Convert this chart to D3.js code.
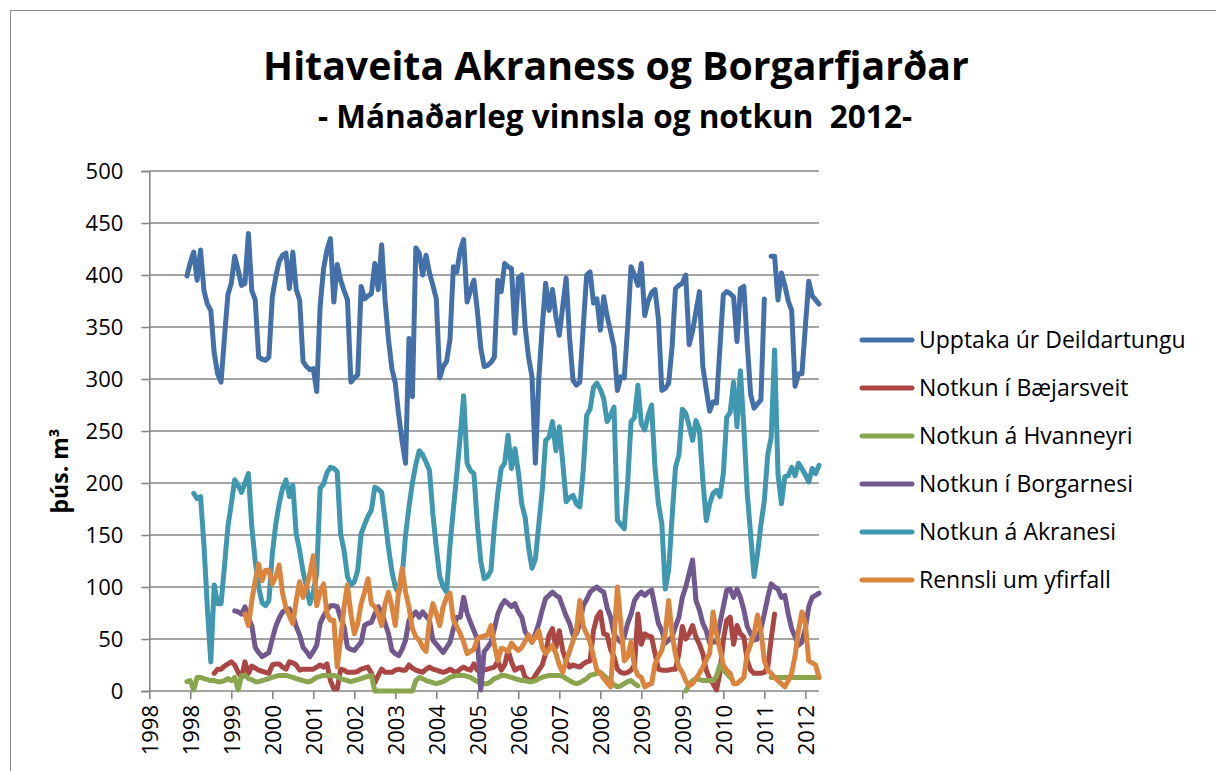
<!DOCTYPE html>
<html>
<head>
<meta charset="utf-8">
<script src="https://cdn.jsdelivr.net/npm/d3@7"></script>
<style>
  html, body { margin: 0; padding: 0; background: #fff; }
  svg { display: block; }
  text { font-family: "Open Sans", Lato, sans-serif; fill: #000; }
</style>
</head>
<body>
<svg id="chart" width="1216" height="771"></svg>
<script>
// ---------- DATA ----------
const titleText = "Hitaveita Akraness og Borgarfjarðar";
const subtitleText = "- Mánaðarleg vinnsla og notkun  2012-";
const yAxisTitle = "þús. m³";
const yTicks = [0, 50, 100, 150, 200, 250, 300, 350, 400, 450, 500];
const xTickIndex = [0, 12, 24, 36, 48, 60, 72, 84, 96, 108, 120, 132, 144, 156, 168, 180, 192];
const xTickLabels = ["1998","1998","1999","2000","2001","2002","2003","2004","2005","2006","2007","2008","2009","2009","2010","2011","2012"];
const seriesNames = ["Upptaka úr Deildartungu","Notkun í Bæjarsveit","Notkun á Hvanneyri","Notkun í Borgarnesi","Notkun á Akranesi","Rennsli um yfirfall"];
const seriesColors = ["#4470AA","#AA4643","#89A54E","#71588F","#3F97B0","#DB843D"];
const N = null;

// Upptaka úr Deildartungu (monthly, index 0..196)
const upptaka = [N,N,N,N,N,N,N,N,N,N,N,
399,412,422,395,424,385,372,366,325,305,297,340,381,392,418,405,390,392,440,
385,376,321,319,318,321,379,398,413,419,421,387,422,386,376,317,312,309,310,288,
370,406,424,435,374,410,395,385,376,297,301,304,389,377,380,382,411,386,429,376,
338,310,296,265,240,219,339,283,426,421,400,419,402,390,377,301,312,317,338,408,
403,424,434,374,385,395,366,330,312,313,316,321,395,384,411,408,406,344,397,400,
350,321,302,219,300,350,392,366,386,360,342,370,397,340,299,294,297,350,400,403,
373,377,347,379,360,346,331,289,302,301,350,408,400,390,411,361,375,383,386,358,
289,291,296,331,387,390,392,400,333,346,365,384,312,290,269,278,277,330,381,384,
382,379,336,387,389,334,285,272,276,280,377,N,418,418,376,402,390,375,366,293,
305,305,350,394,380,376,372];

// Notkun í Bæjarsveit
const baejarsveit = [N,N,N,N,N,N,N,N,N,N,N,N,N,N,N,N,N,N,N,
17,21,21,24,26,28,25,18,13,28,17,24,22,20,19,18,17,25,26,26,23,
21,28,27,25,20,21,21,21,21,23,25,23,26,10,2,2,21,20,18,18,
18,19,21,22,23,17,8,15,21,18,18,18,20,21,20,20,25,22,20,19,
18,21,23,21,20,19,18,19,21,19,18,21,23,21,20,26,20,20,20,21,
22,23,29,20,25,39,28,20,22,23,13,11,10,15,20,25,36,54,60,42,
58,39,29,23,25,24,23,26,28,29,58,71,76,55,54,40,33,21,18,17,
18,20,25,74,45,55,53,52,36,21,20,20,20,21,21,36,62,50,55,63,
52,45,36,20,12,7,1,17,49,68,71,45,63,55,52,29,20,17,17,17,
18,23,50,74,N,N,N,N,N,N,N,N,N,N,N,N,N];

// Notkun á Hvanneyri
const hvanneyri = [N,N,N,N,N,N,N,N,N,N,N,
9,10,1,13,13,12,11,10,10,9,9,10,12,10,13,1,15,15,12,
11,9,9,10,11,12,13,14,15,15,15,14,13,12,11,10,9,9,11,13,
14,15,15,15,15,14,12,11,10,9,10,11,12,13,14,15,0,0,0,0,
0,0,0,0,0,0,0,0,10,13,12,10,9,8,7,8,9,11,13,14,
15,15,15,14,13,11,9,8,7,7,9,12,13,15,15,14,13,12,11,10,
10,9,9,10,12,13,14,15,15,15,15,14,12,10,8,7,8,10,12,15,
16,17,18,15,12,9,6,4,5,7,9,10,7,5,N,N,N,N,N,N,
N,N,N,N,N,N,N,0,6,10,12,11,10,10,10,10,14,25,20,17,
13,N,N,N,N,N,N,N,N,N,N,N,13,13,13,13,13,13,13,13,
13,13,13,13,13,13,13];

// Notkun í Borgarnesi
const borgarnes = [N,N,N,N,N,N,N,N,N,N,N,N,N,N,N,N,N,N,N,N,N,N,N,N,N,
77,76,74,81,70,63,42,37,33,35,37,50,62,70,76,
78,79,73,62,54,42,38,33,38,44,65,72,78,82,82,81,70,62,42,40,
39,43,47,63,65,66,74,81,76,65,55,39,36,34,40,49,68,72,76,71,
76,72,68,49,45,41,37,42,47,60,71,71,90,75,66,58,50,1,38,42,
47,60,74,82,87,84,81,84,76,71,57,52,47,55,65,78,89,92,95,92,
90,81,72,65,54,55,65,82,88,95,98,100,97,95,80,71,55,50,47,52,
65,74,87,92,95,92,95,97,81,65,58,46,49,52,62,71,90,100,113,126,
87,78,65,58,46,47,47,65,81,97,98,90,98,90,78,62,55,49,50,60,
74,90,103,100,98,90,92,74,60,52,44,47,60,81,90,92,94];

// Notkun á Akranesi
const akranes = [N,N,N,N,N,N,N,N,N,N,N,N,N,
190,185,187,140,80,28,102,84,84,120,158,180,203,198,191,200,209,
158,125,100,85,82,87,132,160,180,195,203,187,198,151,135,115,100,84,95,113,
195,199,210,215,214,211,151,135,110,102,105,116,151,160,168,174,196,194,191,165,
138,115,100,94,110,150,177,200,218,231,227,220,212,170,138,110,100,95,140,175,
209,245,284,219,212,209,161,125,108,110,116,158,190,214,219,246,214,233,211,180,
167,138,118,127,160,193,241,244,259,231,254,220,182,186,188,180,177,212,265,271,
292,296,290,281,259,265,273,164,160,156,200,259,263,294,257,251,265,275,215,180,
161,98,116,167,215,227,271,267,255,241,260,251,203,164,180,190,193,187,209,263,
268,297,254,308,254,190,150,110,132,160,183,227,244,328,209,180,206,207,215,207,
219,214,208,201,214,209,217];

// Rennsli um yfirfall
const yfirfall = [N,N,N,N,N,N,N,N,N,N,N,N,N,N,N,N,N,N,N,N,N,N,N,N,N,N,N,N,
74,63,87,106,122,106,116,116,103,110,121,94,80,72,65,87,105,90,100,113,130,82,
95,103,74,68,68,23,50,81,102,74,55,65,84,95,108,84,81,74,63,84,
95,81,63,97,118,95,81,60,52,49,42,38,68,84,74,63,81,90,94,68,
62,55,47,36,38,40,50,52,53,54,63,44,29,41,40,38,46,42,39,42,
48,54,47,52,58,42,36,40,44,36,25,18,29,38,48,58,87,62,55,47,
33,20,17,12,8,4,49,100,65,29,33,47,23,15,13,4,6,7,26,33,
39,55,87,55,35,23,18,10,5,7,12,17,23,30,36,76,55,40,25,20,
17,7,7,10,13,36,45,55,73,58,29,20,17,13,10,7,4,10,17,34,
58,76,65,29,27,25,13];

const seriesData = [upptaka, baejarsveit, hvanneyri, borgarnes, akranes, yfirfall];

// ---------- LAYOUT ----------
const svg = d3.select("#chart");
const plotL = 149.3, plotR = 819, plotT = 171, plotB = 691;
const gridColor = "#878787";
const FONT = "'Open Sans', Lato, sans-serif";

svg.append("rect").attr("x", 10.5).attr("y", 10.5).attr("width", 1230).attr("height", 800)
  .attr("fill", "none").attr("stroke", "#8a8a8a").attr("stroke-width", 1);

const x = d3.scaleLinear().domain([0, 196]).range([plotL, plotR]);
const y = d3.scaleLinear().domain([0, 500]).range([plotB, plotT]);

function fitText(sel, width) {
  const w = sel.node().getComputedTextLength();
  const fs = parseFloat(sel.attr("font-size"));
  sel.attr("font-size", (fs * width / w).toFixed(2));
}
const title = svg.append("text").attr("x", 616).attr("y", 80).attr("text-anchor", "middle")
  .attr("font-weight", "bold").attr("font-size", 40).text(titleText);
fitText(title, 706);
const sub = svg.append("text").attr("x", 615).attr("y", 128).attr("text-anchor", "middle")
  .attr("font-weight", "bold").attr("font-size", 28).style("white-space", "pre").text(subtitleText);
fitText(sub, 594);

// Gridlines
svg.append("g").selectAll("line").data(yTicks.filter(d => d > 0)).join("line")
  .attr("x1", plotL).attr("x2", plotR)
  .attr("y1", d => y(d)).attr("y2", d => y(d))
  .attr("stroke", gridColor).attr("stroke-width", 1.6);

// Y axis
const yAxis = svg.append("g").attr("transform", `translate(${plotL},0)`)
  .call(d3.axisLeft(y).tickValues(yTicks).tickSize(8).tickPadding(18).tickFormat(d3.format("d")));
yAxis.select(".domain").attr("stroke", gridColor).attr("stroke-width", 1.6);
yAxis.selectAll(".tick line").attr("stroke", gridColor).attr("stroke-width", 1.6);
yAxis.selectAll(".tick text").attr("font-size", 22).attr("font-family", FONT).attr("fill", "#000");

// X axis
const xAxis = svg.append("g").attr("transform", `translate(0,${plotB})`)
  .call(d3.axisBottom(x).tickValues(xTickIndex).tickSize(8)
    .tickFormat((d, i) => xTickLabels[i]));
xAxis.select(".domain").attr("stroke", gridColor).attr("stroke-width", 1.6)
  .attr("d", `M${plotL},0H${plotR}`);
xAxis.selectAll(".tick line").attr("stroke", gridColor).attr("stroke-width", 1.6);
xAxis.selectAll(".tick text")
  .attr("font-size", 22).attr("font-family", FONT).attr("fill", "#000")
  .attr("text-anchor", "end").attr("transform", "rotate(-90)")
  .attr("x", -14).attr("y", 0).attr("dy", "0.36em");

// Y axis title
svg.append("text").attr("transform", "translate(68,471) rotate(-90)")
  .attr("text-anchor", "middle").attr("font-weight", "bold").attr("font-size", 23)
  .text(yAxisTitle);

// Lines
const gLines = svg.append("g");
seriesData.forEach((arr, k) => {
  const pts = arr.map((v, i) => [i, v]);
  gLines.append("path")
    .attr("d", d3.line().defined(d => d[1] != null).x(d => x(d[0])).y(d => y(d[1]))(pts))
    .attr("fill", "none").attr("stroke", seriesColors[k]).attr("stroke-width", 5)
    .attr("stroke-linejoin", "round").attr("stroke-linecap", "round");
});

// Legend
const legendY = [340, 388, 436, 484, 532, 580];
const lg = svg.append("g");
seriesNames.forEach((name, k) => {
  lg.append("line").attr("x1", 862).attr("x2", 912).attr("y1", legendY[k]).attr("y2", legendY[k])
    .attr("stroke", seriesColors[k]).attr("stroke-width", 5).attr("stroke-linecap", "round");
  lg.append("text").attr("x", 919).attr("y", legendY[k]).attr("dy", "0.36em")
    .attr("font-size", 23).text(name);
});
</script>
</body>
</html>
